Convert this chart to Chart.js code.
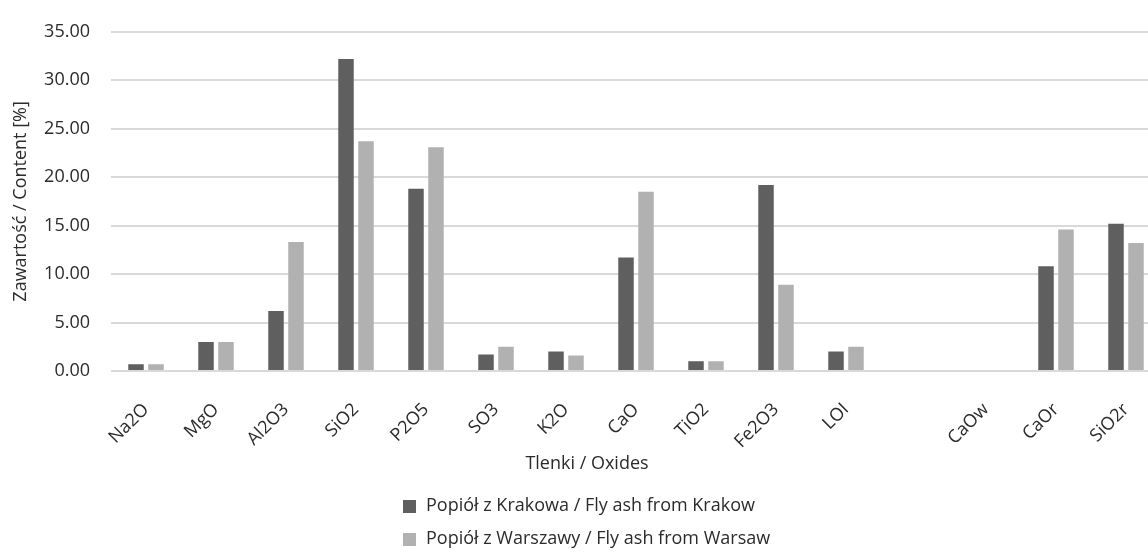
<!DOCTYPE html>
<html>
<head>
<meta charset="utf-8">
<script src="https://cdn.jsdelivr.net/npm/chart.js@4/dist/chart.umd.min.js"></script>
<style>
  html, body { margin: 0; padding: 0; background: #ffffff; overflow: hidden; }
  #wrap { width: 1148px; height: 554px; overflow: hidden; }
  canvas { display: block; }
</style>
</head>
<body>
<div id="wrap"><canvas id="chart" width="1174" height="554"></canvas></div>
<script>
// Oxide composition of two fly ashes [%]
const oxides = ['Na2O', 'MgO', 'Al2O3', 'SiO2', 'P2O5', 'SO3', 'K2O', 'CaO', 'TiO2', 'Fe2O3', 'LOI', '', 'CaOw', 'CaOr', 'SiO2r'];
const krakow = [0.7, 3.0, 6.2, 32.2, 18.8, 1.7, 2.0, 11.7, 1.0, 19.2, 2.0, null, null, 10.8, 15.2];
const warsaw = [0.7, 3.0, 13.3, 23.7, 23.1, 2.5, 1.6, 18.5, 1.0, 8.9, 2.5, null, null, 14.6, 13.2];
const seriesNames = ['Popiół z Krakowa / Fly ash from Krakow', 'Popiół z Warszawy / Fly ash from Warsaw'];
const yTicks = [0, 5, 10, 15, 20, 25, 30, 35];
const xTitle = 'Tlenki / Oxides';
const yTitle = 'Zawartość / Content [%]';

const textColor = '#2b2b2b';
const gridColor = '#d9d9d9';
const FONT = '"Open Sans", sans-serif';

Chart.defaults.font.family = FONT;
Chart.defaults.font.size = 18;
Chart.defaults.color = textColor;

// x-axis title and a stacked legend drawn under the rotated category labels
const bottomTexts = {
  id: 'bottomTexts',
  afterDraw(chart) {
    const ctx = chart.ctx;
    const cx = chart.width / 2;
    const base = chart.chartArea.bottom;
    ctx.save();
    ctx.font = '18px ' + FONT;
    ctx.fillStyle = textColor;
    ctx.textAlign = 'center';
    ctx.textBaseline = 'middle';
    ctx.fillText(xTitle, cx, base + 93);

    const sets = chart.data.datasets;
    const box = 13, gap = 10;
    const widest = Math.max(...sets.map(d => ctx.measureText(d.label).width));
    const x0 = Math.round(cx - (box + gap + widest) / 2);
    sets.forEach((d, i) => {
      const y = base + 135 + i * 33;
      ctx.fillStyle = d.backgroundColor;
      ctx.fillRect(x0, Math.round(y - box / 2), box, box);
      ctx.fillStyle = textColor;
      ctx.textAlign = 'left';
      ctx.fillText(d.label, x0 + box + gap, y);
    });
    ctx.restore();
  }
};

new Chart(document.getElementById('chart'), {
  type: 'bar',
  data: {
    labels: oxides,
    datasets: [
      { label: seriesNames[0], data: krakow, backgroundColor: '#5f5f5f' },
      { label: seriesNames[1], data: warsaw, backgroundColor: '#b1b1b1' }
    ]
  },
  options: {
    responsive: false,
    animation: false,
    devicePixelRatio: 1,
    categoryPercentage: 0.571,
    barPercentage: 0.775,
    layout: { padding: { top: 24, right: 13, bottom: 0, left: 0 } },
    plugins: {
      legend: { display: false },
      tooltip: { enabled: false }
    },
    scales: {
      x: {
        grid: { display: false, drawTicks: false },
        border: { display: false },
        ticks: {
          autoSkip: false,
          minRotation: 45,
          maxRotation: 45,
          padding: 28,
          color: textColor,
          font: { size: 18 }
        },
        afterFit(scale) { scale.height = 183; }
      },
      y: {
        min: 0,
        max: 35,
        grid: { color: gridColor, lineWidth: 2, drawTicks: false },
        border: { display: false },
        afterBuildTicks(scale) { scale.ticks = yTicks.map(v => ({ value: v })); },
        ticks: {
          padding: 21,
          color: textColor,
          font: { size: 18 },
          callback: v => Number(v).toFixed(2)
        },
        title: {
          display: true,
          text: yTitle,
          color: textColor,
          font: { size: 18 },
          padding: { top: 10, bottom: 0 }
        },
        afterFit(scale) { scale.width = 111; }
      }
    }
  },
  plugins: [bottomTexts]
});
</script>
</body>
</html>
